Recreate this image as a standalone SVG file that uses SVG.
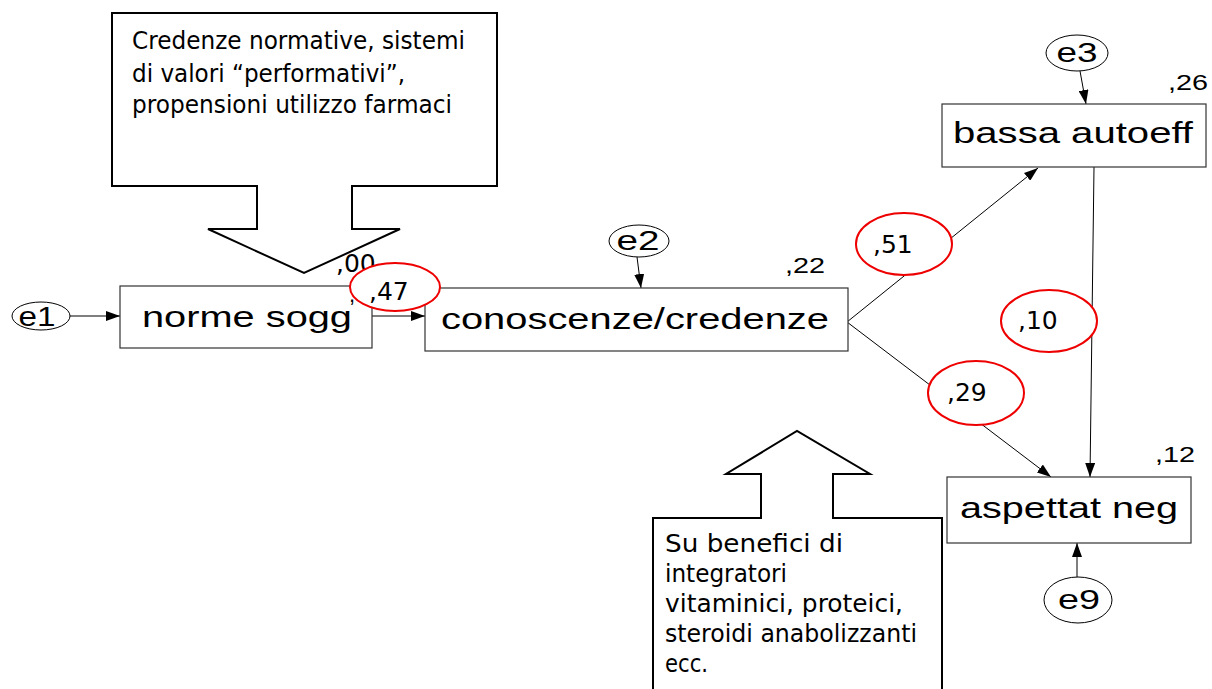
<svg xmlns="http://www.w3.org/2000/svg" width="1212" height="689" viewBox="0 0 1212 689">
<defs>
<marker id="ah" markerWidth="14" markerHeight="10" refX="14" refY="5" orient="auto" markerUnits="userSpaceOnUse">
<path d="M0,0 L14,5 L0,10 Z" fill="#000"/>
</marker>
<style>
.box{fill:#fff;stroke:#333;stroke-width:1.2}
.ell{fill:#fff;stroke:#000;stroke-width:1}
.red{fill:#fff;stroke:#e00;stroke-width:2}
.lbl{font-family:"Liberation Sans",Arial,sans-serif;font-size:30px;fill:#000}
.el{font-family:"Liberation Sans",Arial,sans-serif;font-size:28px;fill:#000}
.num{font-family:"Liberation Sans",Arial,sans-serif;font-size:22px;fill:#000}
.coef{font-family:"DejaVu Sans",Verdana,sans-serif;font-size:25px;fill:#000}
.call{font-family:"DejaVu Sans",Verdana,sans-serif;font-size:24px;fill:#000}
.callout{fill:#fff;stroke:#000;stroke-width:2}
.con{stroke:#000;stroke-width:1;fill:none}
</style>
</defs>
<rect width="1212" height="689" fill="#fff"/>

<g id="callout-top">
<path class="callout" d="M112,13 H497 V186 H352 V229 H400 L304,273 L208,229 H257 V186 H112 Z"/>
<text class="call" x="132" y="49" textLength="333" lengthAdjust="spacingAndGlyphs">Credenze normative, sistemi</text>
<text class="call" x="132" y="82" textLength="273" lengthAdjust="spacingAndGlyphs">di valori “performativi”,</text>
<text class="call" x="132" y="113" textLength="320" lengthAdjust="spacingAndGlyphs">propensioni utilizzo farmaci</text>
</g>

<g id="callout-bottom">
<path class="callout" d="M653,700 V518 H761 V474 H726 L797,431 L870,474 H833 V518 H942 V700 Z"/>
<text class="call" x="665" y="552" textLength="178" lengthAdjust="spacingAndGlyphs">Su benefici di</text>
<text class="call" x="665" y="582" textLength="122" lengthAdjust="spacingAndGlyphs">integratori</text>
<text class="call" x="665" y="612" textLength="238" lengthAdjust="spacingAndGlyphs">vitaminici, proteici,</text>
<text class="call" x="665" y="642" textLength="252" lengthAdjust="spacingAndGlyphs">steroidi anabolizzanti</text>
<text class="call" x="665" y="672" textLength="43" lengthAdjust="spacingAndGlyphs">ecc.</text>
</g>

<g id="connectors">
<line class="con" x1="70" y1="316" x2="120" y2="316" marker-end="url(#ah)"/>
<line class="con" x1="372" y1="316" x2="425" y2="316" marker-end="url(#ah)"/>
<line class="con" x1="637" y1="257" x2="641" y2="288" marker-end="url(#ah)"/>
<line class="con" x1="1080" y1="71" x2="1086" y2="104" marker-end="url(#ah)"/>
<line class="con" x1="847" y1="322" x2="1038" y2="168" marker-end="url(#ah)"/>
<line class="con" x1="847" y1="322" x2="1051" y2="477" marker-end="url(#ah)"/>
<line class="con" x1="1094" y1="167" x2="1090" y2="477" marker-end="url(#ah)"/>
<line class="con" x1="1077" y1="577" x2="1077" y2="543" marker-end="url(#ah)"/>
</g>

<g id="e1">
<ellipse class="ell" cx="41" cy="316" rx="29" ry="14"/>
<text class="el" x="37" y="326" text-anchor="middle" textLength="37" lengthAdjust="spacingAndGlyphs">e1</text>
</g>
<g id="e2">
<ellipse class="ell" cx="639" cy="241" rx="30" ry="16"/>
<text class="el" x="638" y="250" text-anchor="middle" textLength="43" lengthAdjust="spacingAndGlyphs">e2</text>
</g>
<g id="e3">
<ellipse class="ell" cx="1077" cy="53" rx="31" ry="18"/>
<text class="el" x="1077" y="62" text-anchor="middle" textLength="41" lengthAdjust="spacingAndGlyphs">e3</text>
</g>
<g id="e9">
<ellipse class="ell" cx="1078" cy="600" rx="34" ry="23"/>
<text class="el" x="1079" y="609" text-anchor="middle" textLength="42" lengthAdjust="spacingAndGlyphs">e9</text>
</g>

<g id="norme-sogg">
<rect class="box" x="120" y="286" width="252" height="62"/>
<text class="lbl" x="247" y="327" text-anchor="middle" textLength="210" lengthAdjust="spacingAndGlyphs">norme sogg</text>
<text class="coef" x="336" y="272">,00</text>
<text class="num" x="349" y="302">,</text>
</g>

<g id="conoscenze">
<rect class="box" x="425" y="288" width="423" height="63"/>
<text class="lbl" x="635" y="329" text-anchor="middle" textLength="388" lengthAdjust="spacingAndGlyphs">conoscenze/credenze</text>
<text class="num" x="785" y="273" textLength="40" lengthAdjust="spacingAndGlyphs">,22</text>
</g>

<g id="bassa-autoeff">
<rect class="box" x="942" y="104" width="264" height="63"/>
<text class="lbl" x="1073" y="143" text-anchor="middle" textLength="240" lengthAdjust="spacingAndGlyphs">bassa autoeff</text>
<text class="num" x="1168" y="90" textLength="40" lengthAdjust="spacingAndGlyphs">,26</text>
</g>

<g id="aspettat-neg">
<rect class="box" x="947" y="477" width="244" height="66"/>
<text class="lbl" x="1069" y="518" text-anchor="middle" textLength="218" lengthAdjust="spacingAndGlyphs">aspettat neg</text>
<text class="num" x="1155" y="462" textLength="40" lengthAdjust="spacingAndGlyphs">,12</text>
</g>

<g id="coef-47">
<ellipse class="red" cx="395" cy="287" rx="45" ry="24"/>
<text class="coef" x="369" y="300">,47</text>
</g>
<g id="coef-51">
<ellipse class="red" cx="904" cy="244" rx="48" ry="31"/>
<text class="coef" x="873" y="253">,51</text>
</g>
<g id="coef-10">
<ellipse class="red" cx="1049" cy="321" rx="48" ry="31"/>
<text class="coef" x="1018" y="329">,10</text>
</g>
<g id="coef-29">
<ellipse class="red" cx="976" cy="393" rx="48" ry="32"/>
<text class="coef" x="947" y="401">,29</text>
</g>
</svg>
